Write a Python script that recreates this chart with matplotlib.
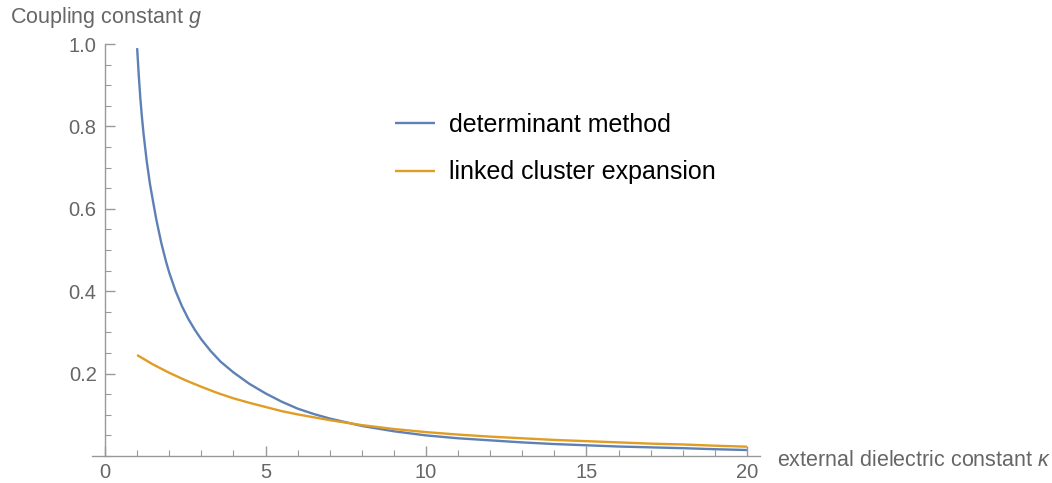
import matplotlib
matplotlib.use('Agg')
import matplotlib.pyplot as plt
from matplotlib.ticker import MultipleLocator

# values
kappa_det = [1.0, 1.05, 1.1, 1.15, 1.2, 1.3, 1.4, 1.5, 1.6, 1.75, 1.9, 2.0, 2.2, 2.4,
             2.6, 2.8, 3.0, 3.3, 3.6, 4.0, 4.5, 5.0, 5.5, 6.0, 6.5, 7.0, 7.5, 8.0,
             9.0, 10.0, 11.0, 12.0, 13.0, 14.0, 15.0, 16.0, 17.0, 18.0, 19.0, 20.0]
g_det = [0.99, 0.925, 0.868, 0.822, 0.782, 0.715, 0.660, 0.616, 0.573, 0.518, 0.472,
         0.445, 0.400, 0.363, 0.332, 0.306, 0.283, 0.254, 0.229, 0.203, 0.175, 0.152,
         0.132, 0.115, 0.102, 0.091, 0.082, 0.073, 0.060, 0.050, 0.043, 0.038, 0.033,
         0.029, 0.026, 0.023, 0.021, 0.019, 0.0165, 0.0145]

kappa_lce = [1.0, 1.5, 2.0, 2.5, 3.0, 3.5, 4.0, 4.5, 5.0, 5.5, 6.0, 6.5, 7.0, 7.5,
             8.0, 9.0, 10.0, 11.0, 12.0, 13.0, 14.0, 15.0, 16.0, 17.0, 18.0, 19.0, 20.0]
g_lce = [0.245, 0.222, 0.202, 0.184, 0.168, 0.153, 0.140, 0.129, 0.119, 0.109, 0.101,
         0.094, 0.087, 0.081, 0.075, 0.0655, 0.058, 0.052, 0.047, 0.043, 0.039, 0.036,
         0.033, 0.030, 0.028, 0.025, 0.0226]

labels = ['determinant method', 'linked cluster expansion']
colors = ['#5E81B5', '#E19C24']

plt.rcParams['font.family'] = ['Liberation Sans', 'DejaVu Sans']
plt.rcParams['mathtext.fontset'] = 'custom'
plt.rcParams['mathtext.it'] = 'Liberation Sans:italic'
plt.rcParams['mathtext.rm'] = 'Liberation Sans'

axis_gray = '#999999'
text_gray = '#666666'

fig = plt.figure(figsize=(10.52, 4.83), dpi=100)
ax = fig.add_axes([92.2 / 1052, 27 / 483, 667.6 / 1052, 412 / 483])

ax.plot(kappa_det, g_det, color=colors[0], lw=1.7, label=labels[0], clip_on=False,
        solid_joinstyle='round', solid_capstyle='butt')
ax.plot(kappa_lce, g_lce, color=colors[1], lw=1.7, label=labels[1], clip_on=False,
        solid_joinstyle='round', solid_capstyle='butt')

ax.set_xlim(-0.4, 20.4)
ax.set_ylim(0, 1.0)

for s in ['top', 'right']:
    ax.spines[s].set_visible(False)
ax.spines['left'].set_position(('data', 0))
ax.spines['left'].set_color(axis_gray)
ax.spines['bottom'].set_color(axis_gray)
ax.spines['left'].set_linewidth(1.0)
ax.spines['bottom'].set_linewidth(1.0)

ax.xaxis.set_major_locator(MultipleLocator(5))
ax.xaxis.set_minor_locator(MultipleLocator(1))
ax.set_yticks([0.2, 0.4, 0.6, 0.8, 1.0])
ax.set_yticklabels(['0.2', '0.4', '0.6', '0.8', '1.0'])
ax.yaxis.set_minor_locator(MultipleLocator(0.05))

ax.tick_params(which='both', direction='in', color=axis_gray, labelcolor=text_gray,
               labelsize=14.5)
ax.tick_params(which='major', length=7, width=1.0)
ax.tick_params(which='minor', length=4, width=0.8)
ax.tick_params(axis='x', pad=5)
ax.tick_params(axis='y', pad=6)

fig.text(10 / 1052, 1 - 17 / 483, 'Coupling constant $g$', fontsize=15.5,
         color=text_gray, ha='left', va='center')
fig.text(777 / 1052, 1 - 461 / 483, 'external dielectric constant $\\kappa$',
         fontsize=15.5, color=text_gray, ha='left', va='center')

leg = ax.legend(loc='upper left', bbox_to_anchor=(395 / 1052, 1 - 113 / 483),
                bbox_transform=fig.transFigure, frameon=False, fontsize=18,
                handlelength=1.6, handletextpad=0.55, labelspacing=0.93,
                borderpad=0, borderaxespad=0)

fig.savefig('out.png', dpi=100)
